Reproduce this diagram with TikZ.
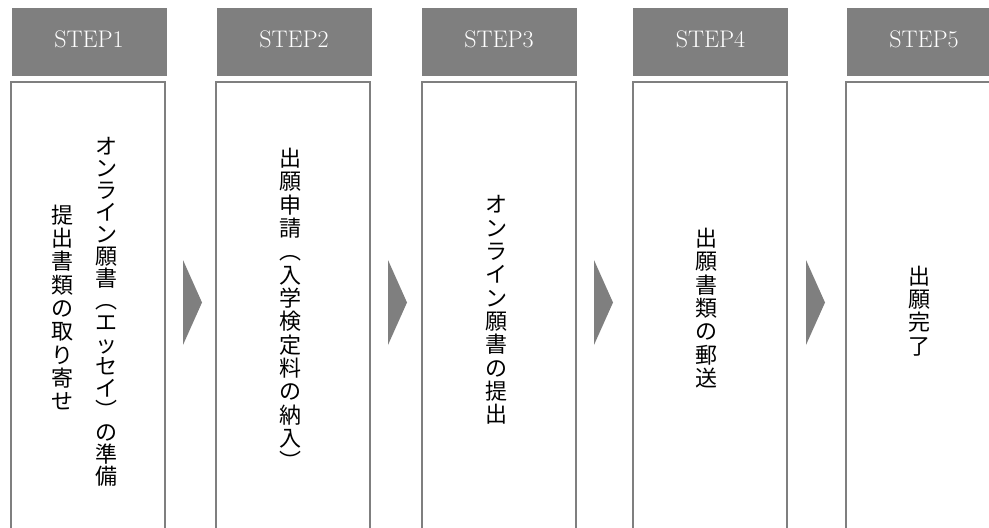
\documentclass[tikz,border=0pt]{standalone}
\usepackage{fontspec}
\usepackage{xcolor}
\usepackage{tikz}
\newfontfamily\jpfont{Noto Sans CJK JP}
\definecolor{stepgray}{RGB}{127,127,127}

\begin{document}
\begin{tikzpicture}[x=0.75pt,y=-0.75pt]
\tikzstyle{every node}+=[inner sep=0pt]
\tikzstyle{stephead}=[fill=stepgray, text=white, minimum width=116.25pt, minimum height=51pt, text depth=4.5pt, font=\fontsize{18}{20}\selectfont]
\tikzstyle{stepbox}=[draw=stepgray, line width=1.5pt, minimum width=115.5pt, minimum height=343.5pt]
\tikzstyle{tate}=[align=center, font=\jpfont\fontsize{16.5}{17.5}\selectfont]
\tikzstyle{tatetight}=[align=center, font=\jpfont\fontsize{16.5}{16.5}\selectfont]
\clip (0,0) rectangle (989,528);
% headers
\node [stephead] (h1) at (89,42) {STEP1};
\node [stephead] (h2) at (294,42) {STEP2};
\node [stephead] (h3) at (499,42) {STEP3};
\node [stephead] (h4) at (710.5,42) {STEP4};
\node [stephead] (h5) at (924,42) {STEP5};
% boxes
\node [stepbox] (b1) at (88,311) {};
\node [stepbox] (b2) at (293,311) {};
\node [stepbox] (b3) at (499,311) {};
\node [stepbox] (b4) at (710,311) {};
\node [stepbox] (b5) at (923,311) {};
% texts
\node [tatetight] (t1a) at (106,312) {オ\\ン\\ラ\\イ\\ン\\願\\書\\︵\\エ\\ッ\\セ\\イ\\︶\\の\\準\\備};
\node [tate] (t1b) at (62.5,307.5) {提\\出\\書\\類\\の\\取\\り\\寄\\せ};
\node [tate] (t2) at (290,309) {出\\願\\申\\請\\︵\\入\\学\\検\\定\\料\\の\\納\\入\\︶};
\node [tate] (t3) at (496,310) {オ\\ン\\ラ\\イ\\ン\\願\\書\\の\\提\\出};
\node [tate] (t4) at (706,308) {出\\願\\書\\類\\の\\郵\\送};
\node [tate] (t5) at (919,311) {出\\願\\完\\了};
% chevrons
\fill [stepgray] (183,260) -- (202,302.5) -- (183,345) -- cycle;
\fill [stepgray] (388,260) -- (407,302.5) -- (388,345) -- cycle;
\fill [stepgray] (594,260) -- (613,302.5) -- (594,345) -- cycle;
\fill [stepgray] (806,260) -- (825,302.5) -- (806,345) -- cycle;
\end{tikzpicture}
\end{document}
